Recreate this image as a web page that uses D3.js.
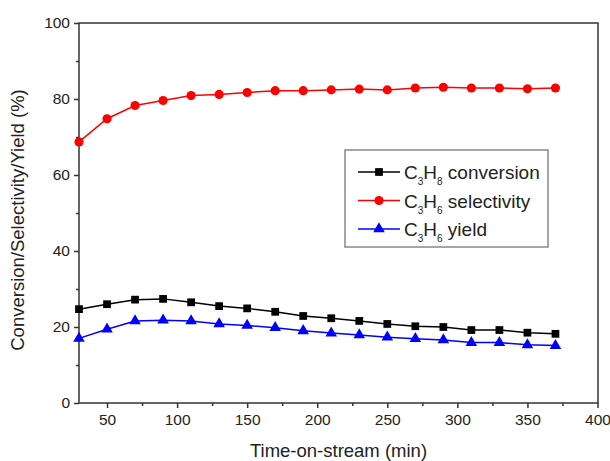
<!DOCTYPE html>
<html>
<head>
<meta charset="utf-8">
<script src="https://cdn.jsdelivr.net/npm/d3@7"></script>
<style>
  body { margin: 0; background: #fff; }
  text { font-family: "Liberation Sans", Arial, sans-serif; fill: #222; }
</style>
</head>
<body>
<div id="plot"></div>
<script>
// data
var time = [30, 50, 70, 90, 110, 130, 150, 170, 190, 210, 230, 250, 270, 290, 310, 330, 350, 370]
var conversion = [24.7, 26.0, 27.2, 27.4, 26.5, 25.5, 24.9, 24.0, 22.9, 22.3, 21.6, 20.8, 20.2, 20.0, 19.2, 19.2, 18.5, 18.2]
var selectivity = [68.7, 74.8, 78.3, 79.6, 80.9, 81.2, 81.7, 82.2, 82.2, 82.4, 82.6, 82.4, 82.9, 83.1, 82.9, 82.9, 82.7, 82.9]
var yieldC3H6 = [17.0, 19.4, 21.6, 21.8, 21.6, 20.8, 20.4, 19.8, 19.0, 18.4, 17.9, 17.3, 16.9, 16.6, 15.9, 15.9, 15.3, 15.1]
var xTicks = [50, 100, 150, 200, 250, 300, 350, 400]
var yTicks = [0, 20, 40, 60, 80, 100]

var series = [
  { name: ["C", "3", "H", "8", " conversion"], values: conversion, color: "#000000", symbol: d3.symbolSquare, size: 60 },
  { name: ["C", "3", "H", "6", " selectivity"], values: selectivity, color: "#ff0000", symbol: d3.symbolCircle, size: 66 },
  { name: ["C", "3", "H", "6", " yield"], values: yieldC3H6, color: "#0000ff", symbol: d3.symbolTriangle, size: 58 }
]

var margin = { top: 23, right: 12, bottom: 58, left: 79 }
  , width = 610 - margin.left - margin.right
  , height = 461 - margin.top - margin.bottom

var svg = d3.select("#plot")
  .append("svg")
  .attr("width", 610)
  .attr("height", 461)
  .append("g")
  .attr("transform", "translate(" + margin.left + "," + margin.top + ")")

var xScale = d3.scaleLinear()
  .domain([30, 400])
  .range([0, width - 0.5])

var yScale = d3.scaleLinear()
  .domain([0, 100])
  .range([height, 0])

// minor ticks first, then majors on top
svg.append("g")
  .attr("transform", "translate(0," + height + ")")
  .call(d3.axisBottom(xScale).tickValues(d3.range(75, 400, 50)).tickSize(3).tickFormat(""))
  .call(g => g.select(".domain").remove())

svg.append("g")
  .attr("transform", "translate(0," + height + ")")
  .call(d3.axisBottom(xScale).tickValues(xTicks).tickSize(5).tickPadding(6))
  .call(g => g.select(".domain").remove())
  .selectAll("text").style("font-size", "15.5px").attr("fill", "#333")

svg.append("g")
  .call(d3.axisLeft(yScale).tickValues(d3.range(10, 100, 20)).tickSize(3).tickFormat(""))
  .call(g => g.select(".domain").remove())

svg.append("g")
  .call(d3.axisLeft(yScale).tickValues(yTicks).tickSize(5).tickPadding(4))
  .call(g => g.select(".domain").remove())
  .selectAll("text").style("font-size", "15.5px").attr("fill", "#333")

svg.selectAll(".tick line").attr("stroke", "#333").attr("stroke-width", 1.5)

// frame
svg.append("rect")
  .attr("x", 0).attr("y", 0)
  .attr("width", width).attr("height", height)
  .attr("fill", "none")
  .attr("stroke", "#333")
  .attr("stroke-width", 1.5)

var line = d3.line()
  .x((d, i) => xScale(time[i]))
  .y(d => yScale(d))

series.forEach(function (s) {
  svg.append("path")
    .datum(s.values)
    .attr("d", line)
    .attr("fill", "none")
    .attr("stroke", s.color)
    .attr("stroke-width", 1.5)

  svg.append("g")
    .selectAll("path")
    .data(s.values)
    .enter()
    .append("path")
    .attr("transform", (d, i) => "translate(" + xScale(time[i]) + "," + yScale(d) + ")")
    .attr("d", d3.symbol().type(s.symbol).size(s.size))
    .attr("fill", s.color)
})

// axis titles
svg.append("text")
  .attr("x", width / 2)
  .attr("y", height + 54)
  .attr("text-anchor", "middle")
  .style("font-size", "18.5px")
  .attr("fill", "#333")
  .text("Time-on-stream (min)")

svg.append("text")
  .attr("transform", "translate(" + (-55) + "," + (height / 2 + 7) + ") rotate(-90)")
  .attr("text-anchor", "middle")
  .style("font-size", "18.5px")
  .attr("fill", "#333")
  .text("Conversion/Selectivity/Yield (%)")

// legend
var legend = svg.append("g")
  .attr("transform", "translate(" + (345 - margin.left) + "," + (150 - margin.top) + ")")

legend.append("rect")
  .attr("width", 203)
  .attr("height", 97)
  .attr("fill", "#fff")
  .attr("stroke", "#888")
  .attr("stroke-width", 1.5)

var item = legend.selectAll(".item")
  .data(series)
  .enter()
  .append("g")
  .attr("class", "item")
  .attr("transform", (d, i) => "translate(0," + (22 + i * 28.5) + ")")

item.append("line")
  .attr("x1", 13).attr("x2", 55)
  .attr("stroke", d => d.color)
  .attr("stroke-width", 1.5)

item.append("path")
  .attr("transform", "translate(34,0)")
  .attr("d", d => d3.symbol().type(d.symbol).size(d.size)())
  .attr("fill", d => d.color)

var label = item.append("text")
  .attr("x", 59)
  .attr("y", 7)
  .attr("fill", "#333")
  .style("font-size", "19px")

label.append("tspan").text(d => d.name[0])
label.append("tspan").attr("dy", 6).style("font-size", "10px").text(d => d.name[1])
label.append("tspan").attr("dy", -6).text(d => d.name[2])
label.append("tspan").attr("dy", 6).style("font-size", "10px").text(d => d.name[3])
label.append("tspan").attr("dy", -6).text(d => d.name[4])
</script>
</body>
</html>
